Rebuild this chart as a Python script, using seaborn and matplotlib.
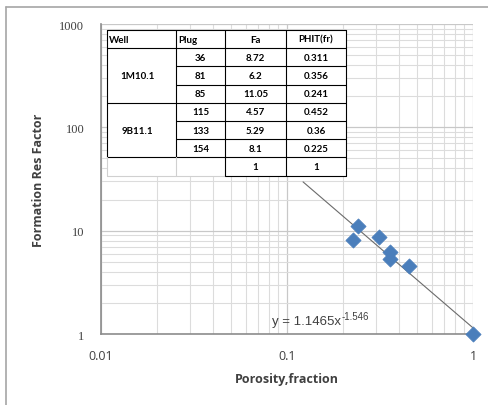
import numpy as np
import pandas as pd
import matplotlib
matplotlib.use("Agg")
import matplotlib.pyplot as plt
from matplotlib.lines import Line2D
from matplotlib.patches import Rectangle
import seaborn as sns

# ---- data ----
header = ["Well", "Plug", "Fa", "PHIT(fr)"]
well_names = ["1M10.1", "9B11.1"]
plugs = ["36", "81", "85", "115", "133", "154", ""]
fa = [8.72, 6.2, 11.05, 4.57, 5.29, 8.1, 1]
phit = [0.311, 0.356, 0.241, 0.452, 0.36, 0.225, 1]
fa_labels = ["8.72", "6.2", "11.05", "4.57", "5.29", "8.1", "1"]
phit_labels = ["0.311", "0.356", "0.241", "0.452", "0.36", "0.225", "1"]
trend_a = 1.1465
trend_b = -1.546
trend_x = [0.122, 1.0]

sns.set_theme(style="white")
plt.rcParams['font.family'] = ['Open Sans', 'DejaVu Sans']

W, H = 489, 406
fig = plt.figure(figsize=(W/100, H/100), dpi=100)
ax = fig.add_axes([101/W, 1-335/H, 372/W, 310/H])

ax.set_xscale("log")
ax.set_yscale("log")
ax.set_xlim(0.01, 1)
ax.set_ylim(1, 1000)

ax.grid(True, which="major", color="#c8c8c8", lw=0.9)
ax.grid(True, which="minor", color="#dcdcdc", lw=0.8)
ax.set_axisbelow(True)

df = pd.DataFrame({"phit": phit, "fa": fa})
tx = np.array(trend_x)
tdf = pd.DataFrame({"x": tx, "y": trend_a * tx ** trend_b})
sns.lineplot(data=tdf, x="x", y="y", ax=ax, color="#6b6b6b", lw=0.8, zorder=3)
sns.scatterplot(data=df, x="phit", y="fa", ax=ax, marker="D", s=60,
                color="#4a7ebb", edgecolor="#4a7ebb", linewidth=0.5, zorder=4,
                clip_on=False)

for s in ["top", "right"]:
    ax.spines[s].set_visible(False)
for s in ["left", "bottom"]:
    ax.spines[s].set_color("#8c8c8c")
    ax.spines[s].set_linewidth(1.2)

ax.set_xticks([0.01, 0.1, 1])
ax.set_xticklabels(["0.01", "0.1", "1"])
ax.set_yticks([1, 10, 100, 1000])
ax.set_yticklabels(["1", "10", "100", "1000"], family=["Liberation Serif", "DejaVu Serif"])
ax.tick_params(axis="both", which="both", length=0, labelsize=9, colors="#404040")
ax.tick_params(axis="x", pad=11)
ax.tick_params(axis="y", pad=12)
ax.set_xlabel("Porosity,fraction", fontsize=9, fontweight="bold", color="#404040", labelpad=7)
ax.set_ylabel("Formation Res Factor", fontsize=9, fontweight="bold", color="#404040", labelpad=10)

# trendline equation
def fx(x):
    return x / W
def fy(y):
    return 1 - y / H

eq = fig.text(fx(272), fy(322), "y = 1.1465x", fontsize=9.5, color="#404040",
              ha="left", va="center", family=["Liberation Sans", "DejaVu Sans"], zorder=6)
fig.canvas.draw()
bb = eq.get_window_extent()
fig.text(bb.x1 / W + 0.5/W, fy(317), f"{trend_b}", fontsize=7, color="#404040",
         ha="left", va="center", family=["Liberation Sans", "DejaVu Sans"], zorder=6)

# ---- table (drawn in figure pixel coordinates) ----
col_x = [107, 176, 225, 286, 346]
row_y = [31 + 18.2 * i for i in range(9)]
fig.add_artist(Rectangle((fx(col_x[0]), fy(row_y[-1])), (col_x[-1]-col_x[0])/W,
                         (row_y[-1]-row_y[0])/H, transform=fig.transFigure,
                         facecolor="white", edgecolor="none", zorder=5))

def hline(y, x0, x1, color="black", lw=0.8):
    fig.add_artist(Line2D([fx(x0), fx(x1)], [fy(y), fy(y)], color=color, lw=lw, zorder=6))

def vline(x, y0, y1, color="black", lw=0.8):
    fig.add_artist(Line2D([fx(x), fx(x)], [fy(y0), fy(y1)], color=color, lw=lw, zorder=6))

hline(row_y[0], col_x[0], col_x[-1])
hline(row_y[1], col_x[0], col_x[-1])
for i in range(2, 8):
    x0 = col_x[0] if i in (4, 7) else col_x[1]
    hline(row_y[i], x0, col_x[-1])
hline(row_y[8], col_x[2], col_x[-1])
hline(row_y[8], col_x[0], col_x[2], color="#d0d0d0")
for j, x in enumerate(col_x):
    if j in (0, 1):
        vline(x, row_y[0], row_y[7])
        vline(x, row_y[7], row_y[8], color="#d0d0d0")
    else:
        vline(x, row_y[0], row_y[8])

tf = dict(fontsize=7, fontweight="bold", color="black", va="center",
          family=["Lato", "DejaVu Sans"], transform=fig.transFigure, zorder=7)

def cy(r):
    return fy((row_y[r] + row_y[r+1]) / 2)

def cx(c):
    return fx((col_x[c] + col_x[c+1]) / 2)

fig.text(fx(col_x[0] + 2), cy(0), header[0], ha="left", **tf)
fig.text(fx(col_x[1] + 2), cy(0), header[1], ha="left", **tf)
fig.text(cx(2), cy(0), header[2], ha="center", **tf)
fig.text(cx(3), cy(0), header[3], ha="center", **tf)
fig.text(cx(0) - 4/W, cy(2), well_names[0], ha="center", **tf)
fig.text(cx(0) - 4/W, cy(5), well_names[1], ha="center", **tf)
for i in range(len(fa)):
    fig.text(cx(1), cy(i + 1), plugs[i], ha="center", **tf)
    fig.text(cx(2), cy(i + 1), fa_labels[i], ha="center", **tf)
    fig.text(cx(3), cy(i + 1), phit_labels[i], ha="center", **tf)

# ---- outer frame ----
fig.add_artist(Line2D([fx(6), 1], [fy(8), fy(8)], color="#a6a6a6", lw=1.2))
fig.add_artist(Line2D([fx(6), fx(6)], [0, fy(8)], color="#a6a6a6", lw=1.2))

fig.savefig("out.png", dpi=100, facecolor="white")
